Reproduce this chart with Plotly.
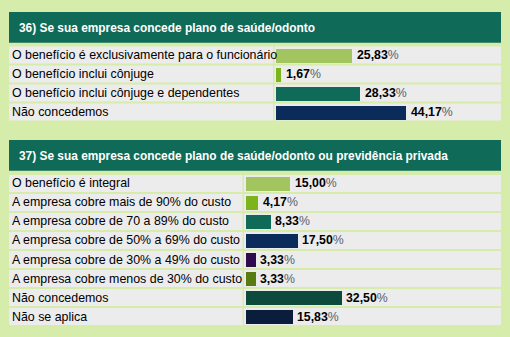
import plotly.graph_objects as go

W, H = 510, 337

# ---------------- data ----------------
q1_title = "36) Se sua empresa concede plano de saúde/odonto"
q1_labels = [
    "O benefício é exclusivamente para o funcionário",
    "O benefício inclui cônjuge",
    "O benefício inclui cônjuge e dependentes",
    "Não concedemos",
]
q1_values = [25.83, 1.67, 28.33, 44.17]
q1_colors = ["#a3c55f", "#7db41c", "#0f6a58", "#0b2b5a"]

q2_title = "37) Se sua empresa concede plano de saúde/odonto ou previdência privada"
q2_labels = [
    "O benefício é integral",
    "A empresa cobre mais de 90% do custo",
    "A empresa cobre de 70 a 89% do custo",
    "A empresa cobre de 50% a 69% do custo",
    "A empresa cobre de 30% a 49% do custo",
    "A empresa cobre menos de 30% do custo",
    "Não concedemos",
    "Não se aplica",
]
q2_values = [15.00, 4.17, 8.33, 17.50, 3.33, 3.33, 32.50, 15.83]
q2_colors = ["#a3c55f", "#7db41c", "#0f6a58", "#0b2b5a",
             "#2d0b4d", "#5a7b12", "#0b4a3d", "#0b1d3c"]

# ---------------- style ----------------
BG = "#d6ecab"
HEAD = "#0f6a58"
ROW = "#ececec"
FONT = "Liberation Sans, Arial, sans-serif"
PX_PER_PCT = 2.95
PITCH = 19.0


def px(x):
    return x / W


def py(y):
    return 1 - y / H


panels = [
    dict(title=q1_title, labels=q1_labels, values=q1_values, colors=q1_colors,
         head=(12, 42.7), rows_top=45.5, label_end=273, cell_start=274.5,
         bar_start=276, ax="", ),
    dict(title=q2_title, labels=q2_labels, values=q2_values, colors=q2_colors,
         head=(140, 170.7), rows_top=174, label_end=242.5, cell_start=244,
         bar_start=245.5, ax="2"),
]

fig = go.Figure()
shapes = []
annotations = []
layout_axes = {}

for p in panels:
    n = len(p["labels"])
    xa = "x" + p["ax"]
    ya = "y" + p["ax"]
    top = p["rows_top"]
    bottom = top + n * PITCH
    x_right = 501
    layout_axes["xaxis" + p["ax"]] = dict(
        domain=[px(p["bar_start"]), px(x_right)],
        range=[0, (x_right - p["bar_start"]) / PX_PER_PCT],
        showgrid=False, zeroline=False, showticklabels=False, showline=False,
        fixedrange=True, anchor=ya,
    )
    layout_axes["yaxis" + p["ax"]] = dict(
        domain=[py(bottom), py(top)],
        type="category",
        categoryorder="array", categoryarray=p["labels"],
        range=[n - 0.5, -0.5],
        showgrid=False, zeroline=False, showticklabels=False, showline=False,
        fixedrange=True, anchor=xa,
    )

    fig.add_trace(go.Bar(
        x=p["values"], y=p["labels"], orientation="h",
        marker=dict(color=p["colors"], line=dict(width=0)),
        width=14 / PITCH, xaxis=xa, yaxis=ya,
        hoverinfo="skip", showlegend=False,
    ))

    # header band
    h0, h1 = p["head"]
    shapes.append(dict(type="rect", xref="paper", yref="paper",
                       x0=px(9), x1=px(501), y0=py(h1), y1=py(h0),
                       fillcolor=HEAD, line=dict(width=0), layer="below"))
    annotations.append(dict(xref="paper", yref="paper", x=px(17),
                            y=py((h0 + h1) / 2 + 0.5),
                            xanchor="left", yanchor="middle", showarrow=False,
                            text="<b>" + p["title"] + "</b>",
                            font=dict(family=FONT, size=11.9, color="white")))

    for i, (lab, val) in enumerate(zip(p["labels"], p["values"])):
        # row cells
        shapes.append(dict(type="rect", xref="paper", yref=ya,
                           x0=px(9), x1=px(p["label_end"]),
                           y0=i - 8.5 / PITCH, y1=i + 8.5 / PITCH,
                           fillcolor=ROW, line=dict(width=0), layer="below"))
        shapes.append(dict(type="rect", xref="paper", yref=ya,
                           x0=px(p["cell_start"]), x1=px(501),
                           y0=i - 8.5 / PITCH, y1=i + 8.5 / PITCH,
                           fillcolor=ROW, line=dict(width=0), layer="below"))
        # category label
        annotations.append(dict(xref="paper", yref=ya, x=px(10), y=lab,
                                xanchor="left", yanchor="middle", showarrow=False,
                                text=lab,
                                font=dict(family=FONT, size=12.4, color="#000000")))
        # value label
        txt = f"{val:.2f}".replace(".", ",")
        annotations.append(dict(xref=xa, yref=ya, x=val, y=lab, xshift=3,
                                xanchor="left", yanchor="middle", showarrow=False,
                                text=f"<b>{txt}</b><span style='color:#56606b'>%</span>",
                                font=dict(family=FONT, size=12.3, color="#000000")))

fig.update_layout(
    width=W, height=H,
    margin=dict(l=0, r=0, t=0, b=0),
    paper_bgcolor=BG, plot_bgcolor="rgba(0,0,0,0)",
    shapes=shapes, annotations=annotations,
    showlegend=False, bargap=0,
    **layout_axes,
)

fig.write_html("out.html", config={"displayModeBar": False})
